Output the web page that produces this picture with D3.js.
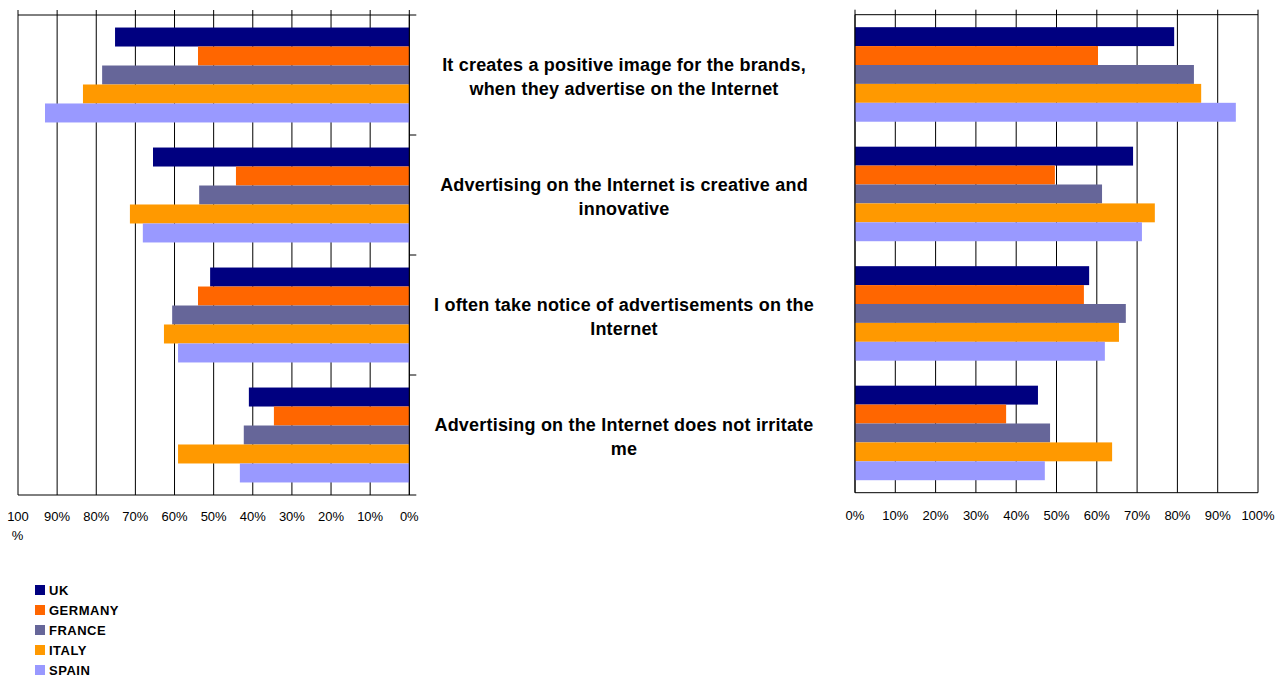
<!DOCTYPE html>
<html><head><meta charset="utf-8">
<script src="https://cdn.jsdelivr.net/npm/d3@7"></script>
<style>
html,body{margin:0;padding:0;background:#fff;}
svg{display:block;font-family:"Liberation Sans",Arial,sans-serif;}
</style></head>
<body>
<svg id="c" width="1277" height="677"></svg>
<script>
const categories = [
  ["It creates a positive image for the brands,", "when they advertise on the Internet"],
  ["Advertising on the Internet is creative and", "innovative"],
  ["I often take notice of advertisements on the", "Internet"],
  ["Advertising on the Internet does not irritate", "me"]
];
const seriesNames = ["UK", "GERMANY", "FRANCE", "ITALY", "SPAIN"];
const seriesColors = ["#000080", "#FF6600", "#666699", "#FF9900", "#9999FF"];
// left panel values (%), per category: UK, GERMANY, FRANCE, ITALY, SPAIN
const leftUK      = [75.2, 65.5, 50.9, 41.0];
const leftGermany = [54.0, 44.3, 54.0, 34.6];
const leftFrance  = [78.5, 53.7, 60.6, 42.3];
const leftItaly   = [83.4, 71.4, 62.7, 59.1];
const leftSpain   = [93.1, 68.1, 59.1, 43.3];
// right panel values (%)
const rightUK      = [79.2, 69.0, 58.1, 45.4];
const rightGermany = [60.3, 49.6, 56.8, 37.5];
const rightFrance  = [84.1, 61.3, 67.2, 48.4];
const rightItaly   = [85.9, 74.4, 65.5, 63.8];
const rightSpain   = [94.5, 71.2, 62.0, 47.1];
const tickValues = [0,10,20,30,40,50,60,70,80,90,100];
const tickLabels = ["0%","10%","20%","30%","40%","50%","60%","70%","80%","90%","100%"];

const leftSeries = [leftUK, leftGermany, leftFrance, leftItaly, leftSpain];
const rightSeries = [rightUK, rightGermany, rightFrance, rightItaly, rightSpain];

const svg = d3.select("#c");
const catIdx = d3.range(categories.length);

function panel(opts){
  const g = svg.append("g");
  const x = d3.scaleLinear().domain(opts.domain).range(opts.xr);
  const y = d3.scaleBand().domain(catIdx).range(opts.yr).padding(0);
  const inner = d3.scaleBand().domain(d3.range(seriesNames.length))
      .range([0, y.bandwidth()]).paddingInner(0).paddingOuter(0.66);
  const [y0, y1] = opts.yr;
  // gridlines (with top outward ticks)
  g.selectAll("line.grid").data(tickValues).join("line")
    .attr("x1", d => x(d)).attr("x2", d => x(d))
    .attr("y1", y0 - 5).attr("y2", y1)
    .attr("stroke", "#000").attr("stroke-width", 1);
  // bars
  opts.series.forEach((vals, si) => {
    g.selectAll("rect.s" + si).data(vals).join("rect")
      .attr("x", d => Math.min(x(0), x(d)))
      .attr("width", d => Math.abs(x(d) - x(0)))
      .attr("y", (d, i) => y(i) + inner(si))
      .attr("height", inner.bandwidth())
      .attr("fill", seriesColors[si]);
  });
  // top & bottom frame lines
  const xa = Math.min(opts.xr[0], opts.xr[1]);
  const xb = Math.max(opts.xr[0], opts.xr[1]) + (opts.catTicks ? 7 : 0);
  [y0, y1].forEach(yy => g.append("line")
    .attr("x1", xa).attr("x2", xb).attr("y1", yy).attr("y2", yy)
    .attr("stroke", "#000").attr("stroke-width", 1));
  // value axis (0%) line
  g.append("line").attr("x1", x(0)).attr("x2", x(0)).attr("y1", y0).attr("y2", y1)
    .attr("stroke", "#000");
  if (opts.catTicks) {
    g.selectAll("line.ct").data(catIdx.slice(1)).join("line")
      .attr("x1", x(0)).attr("x2", x(0) + 7)
      .attr("y1", d => y(d)).attr("y2", d => y(d))
      .attr("stroke", "#000");
  }
  // tick labels
  const lab = g.selectAll("text.tl").data(tickValues).join("text")
    .attr("x", d => x(d)).attr("y", opts.labelY)
    .attr("text-anchor", "middle").attr("font-size", "13px").attr("fill", "#000");
  lab.each(function(d, i){
    const t = d3.select(this);
    if (opts.wrap100 && d === 100) {
      t.append("tspan").attr("x", x(d)).text("100");
      t.append("tspan").attr("x", x(d) - 0.5).attr("dy", 18.5).text("%");
    } else {
      t.text(tickLabels[i]);
    }
  });
  return {x, y};
}

const L = panel({domain:[0,100], xr:[409.3, 18], yr:[15, 495], series:leftSeries, catTicks:true, labelY:521, wrap100:true});
const R = panel({domain:[0,100], xr:[855, 1258], yr:[14.7, 492.7], series:rightSeries, catTicks:false, labelY:520, wrap100:false});

// category labels
const cl = svg.append("g").attr("font-size", "18px").attr("font-weight", "bold")
  .attr("letter-spacing", "0.2px").attr("text-anchor", "middle").attr("fill", "#000");
categories.forEach((lines, i) => {
  const cy = L.y(i) + L.y.bandwidth() / 2;
  const t = cl.append("text").attr("x", 624).attr("y", cy - 4.5);
  lines.forEach((ln, j) => t.append("tspan").attr("x", 624).attr("dy", j === 0 ? 0 : 24).text(ln));
});

// legend
const lg = svg.append("g");
const ly = d3.scaleBand().domain(d3.range(seriesNames.length)).range([580, 680]);
seriesNames.forEach((n, i) => {
  lg.append("rect").attr("x", 35).attr("y", ly(i) + 5).attr("width", 10).attr("height", 10)
    .attr("fill", seriesColors[i]);
  lg.append("text").attr("x", 49).attr("y", ly(i) + 15)
    .attr("font-size", "13px").attr("font-weight", "bold").attr("letter-spacing", "0.5px")
    .attr("fill", "#000").text(n);
});
</script>
</body></html>
